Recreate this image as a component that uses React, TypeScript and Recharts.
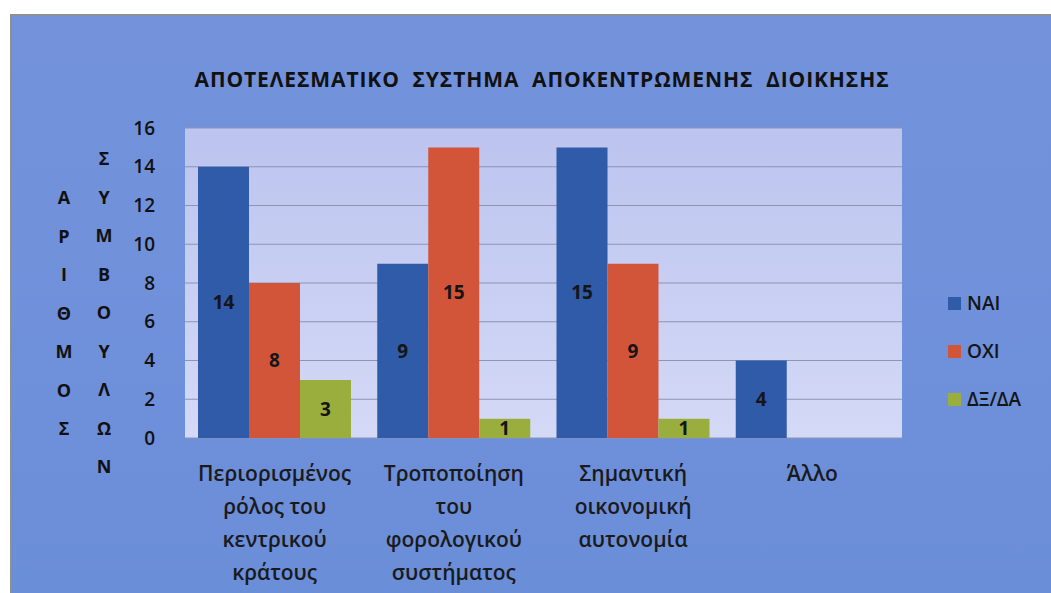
import React from "react";
import {
  BarChart,
  Bar,
  XAxis,
  YAxis,
  CartesianGrid,
  Legend,
  LabelList,
} from "recharts";

const categories = [
  "Περιορισμένος\nρόλος του\nκεντρικού\nκράτους",
  "Τροποποίηση\nτου\nφορολογικού\nσυστήματος",
  "Σημαντική\nοικονομική\nαυτονομία",
  "Άλλο",
];
const naiValues = [14, 9, 15, 4];
const oxiValues: (number | null)[] = [8, 15, 9, null];
const dxdaValues: (number | null)[] = [3, 1, 1, null];
const yTicks = [0, 2, 4, 6, 8, 10, 12, 14, 16];

const seriesNames = ["ΝΑΙ", "ΟΧΙ", "ΔΞ/ΔΑ"];
const seriesColors = ["#2f5ba8", "#d2553a", "#9aae3e"];

const titleText = "ΑΠΟΤΕΛΕΣΜΑΤΙΚΟ  ΣΥΣΤΗΜΑ  ΑΠΟΚΕΝΤΡΩΜΕΝΗΣ  ΔΙΟΙΚΗΣΗΣ";
const yLabelCol1 = "ΑΡΙΘΜΟΣ";
const yLabelCol2 = "ΣΥΜΒΟΥΛΩΝ";

const data = categories.map((name, i) => ({
  name,
  nai: naiValues[i],
  oxi: oxiValues[i],
  dxda: dxdaValues[i],
}));

const FONT = "'Open Sans', 'DejaVu Sans', sans-serif";
const LEGEND_W = 100;

function CategoryTick({ x, y, payload }: any) {
  const lines = String(payload.value).split("\n");
  return (
    <text
      x={x}
      y={y + 35}
      textAnchor="middle"
      fill="#1a1a1a"
      fontFamily={FONT}
      fontWeight={600}
      fontSize={21}
    >
      {lines.map((line, i) => (
        <tspan key={i} x={x} dy={i === 0 ? 0 : 33}>
          {line}
        </tspan>
      ))}
    </text>
  );
}

function StackedYLabel({ viewBox }: any) {
  const top = viewBox?.y ?? 112;
  const col = (letters: string, cx: number, startY: number) =>
    letters.split("").map((ch, i) => (
      <text
        key={`${cx}-${i}`}
        x={cx}
        y={startY + i * 38.5}
        textAnchor="middle"
        dominantBaseline="central"
        fill="#111"
        fontFamily={FONT}
        fontWeight={700}
        fontSize={18}
      >
        {ch}
      </text>
    ));
  return (
    <g>
      {col(yLabelCol1, 52, top + 69)}
      {col(yLabelCol2, 92, top + 30)}
    </g>
  );
}

function LegendBox() {
  return (
    <div style={{ fontFamily: FONT }}>
      {seriesNames.map((s, i) => (
        <div
          key={s}
          style={{ display: "flex", alignItems: "center", height: 48 }}
        >
          <span
            style={{
              width: 13,
              height: 13,
              background: seriesColors[i],
              display: "inline-block",
              marginRight: 6,
            }}
          />
          <span style={{ fontSize: 19, fontWeight: 600, color: "#151515" }}>
            {s}
          </span>
        </div>
      ))}
    </div>
  );
}

export default function App() {
  return (
    <div
      style={{
        position: "absolute",
        left: 0,
        top: 0,
        width: 1051,
        height: 593,
        background: "#ffffff",
        overflow: "hidden",
      }}
    >
      <div
        style={{
          position: "absolute",
          left: 10,
          top: 14,
          width: 1041,
          height: 579,
          background: "linear-gradient(180deg, #7492dc 0%, #6f90da 60%, #6b8ed9 100%)",
          borderTop: "2px solid #8a8f9a",
          borderLeft: "2px solid #8a8f9a",
          boxSizing: "border-box",
        }}
      >
        <div
          style={{
            position: "absolute",
            left: 0,
            top: 49,
            width: 1060,
            textAlign: "center",
            fontFamily: FONT,
            fontWeight: 700,
            fontSize: 21,
            letterSpacing: 0.9,
            color: "#111",
            whiteSpace: "pre",
          }}
        >
          {titleText}
        </div>
        <BarChart
          width={1039}
          height={577}
          data={data}
          margin={{ top: 112, right: 149 - LEGEND_W, bottom: 5, left: 133 }}
          barCategoryGap={13}
          barGap={0}
        >
          <defs>
            <linearGradient id="plotBg" x1="0" y1="0" x2="0" y2="1">
              <stop offset="0%" stopColor="#bcc4ef" />
              <stop offset="100%" stopColor="#d4d9f6" />
            </linearGradient>
          </defs>
          <CartesianGrid
            vertical={false}
            stroke="#8d94b4"
            strokeWidth={1.2}
            fill="url(#plotBg)"
            fillOpacity={1}
          />
          <XAxis
            dataKey="name"
            interval={0}
            axisLine={false}
            tickLine={false}
            height={150}
            tick={<CategoryTick />}
          />
          <YAxis
            domain={[0, 16]}
            ticks={yTicks}
            axisLine={false}
            tickLine={false}
            width={40}
            tick={{ fill: "#111", fontSize: 19, fontWeight: 600, fontFamily: FONT }}
            tickMargin={24}
            label={{ content: <StackedYLabel /> }}
          />
          <Legend
            layout="vertical"
            align="right"
            verticalAlign="top"
            content={<LegendBox />}
            wrapperStyle={{ left: 936, top: 263, width: LEGEND_W }}
          />
          <Bar dataKey="nai" name={seriesNames[0]} fill={seriesColors[0]} isAnimationActive={false}>
            <LabelList dataKey="nai" position="center" fill="#151515" fontSize={19} fontWeight={700} fontFamily={FONT} />
          </Bar>
          <Bar dataKey="oxi" name={seriesNames[1]} fill={seriesColors[1]} isAnimationActive={false}>
            <LabelList dataKey="oxi" position="center" fill="#151515" fontSize={19} fontWeight={700} fontFamily={FONT} />
          </Bar>
          <Bar dataKey="dxda" name={seriesNames[2]} fill={seriesColors[2]} isAnimationActive={false}>
            <LabelList dataKey="dxda" position="center" fill="#151515" fontSize={19} fontWeight={700} fontFamily={FONT} />
          </Bar>
        </BarChart>
      </div>
    </div>
  );
}
